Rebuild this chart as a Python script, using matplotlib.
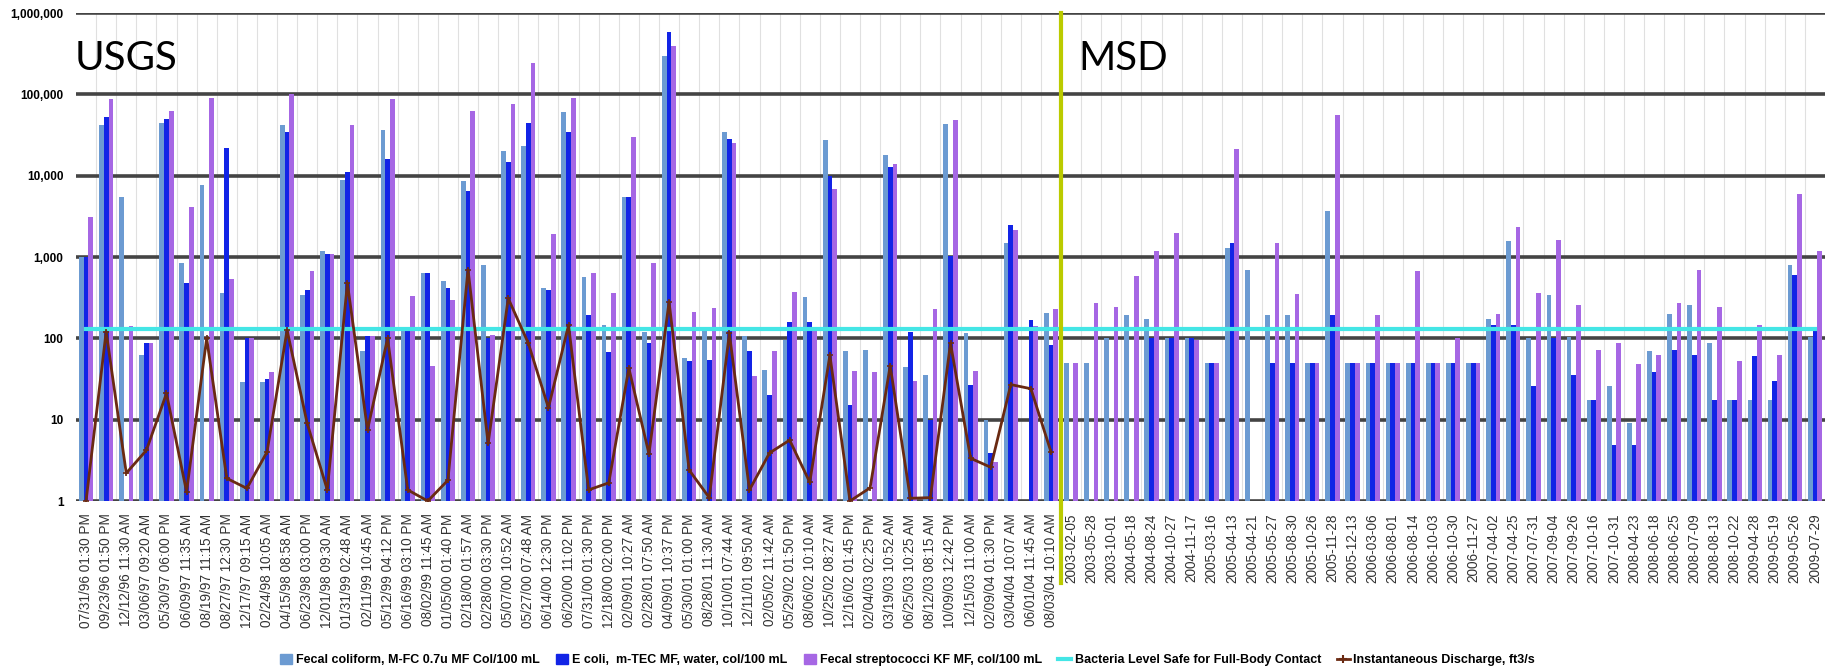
import numpy as np
import matplotlib
matplotlib.use('Agg')
import matplotlib.pyplot as plt
from matplotlib.patches import Patch
from matplotlib.lines import Line2D
import matplotlib.transforms as mtransforms
from matplotlib.ticker import FixedLocator, FuncFormatter

nan = np.nan

# -------------------------------------------------------
#                     USGS SAMPLES
# -------------------------------------------------------

usgs_dates = [
    '07/31/96 01:30 PM', '09/23/96 01:50 PM', '12/12/96 11:30 AM', '03/06/97 09:20 AM',
    '05/30/97 06:00 PM', '06/09/97 11:35 AM', '08/19/97 11:15 AM', '08/27/97 12:30 PM',
    '12/17/97 09:15 AM', '02/24/98 10:05 AM', '04/15/98 08:58 AM', '06/23/98 03:00 PM',
    '12/01/98 09:30 AM', '01/31/99 02:48 AM', '02/11/99 10:45 AM', '05/12/99 04:12 PM',
    '06/16/99 03:10 PM', '08/02/99 11:45 AM', '01/05/00 01:40 PM', '02/18/00 01:57 AM',
    '02/28/00 03:30 PM', '05/07/00 10:52 AM', '05/27/00 07:48 AM', '06/14/00 12:30 PM',
    '06/20/00 11:02 PM', '07/31/00 01:30 PM', '12/18/00 02:00 PM', '02/09/01 10:27 AM',
    '02/28/01 07:50 AM', '04/09/01 10:37 PM', '05/30/01 01:00 PM', '08/28/01 11:30 AM',
    '10/10/01 07:44 AM', '12/11/01 09:50 AM', '02/05/02 11:42 AM', '05/29/02 01:50 PM',
    '08/06/02 10:10 AM', '10/25/02 08:27 AM', '12/16/02 01:45 PM', '02/04/03 02:25 PM',
    '03/19/03 10:52 AM', '06/25/03 10:25 AM', '08/12/03 08:15 AM', '10/09/03 12:42 PM',
    '12/15/03 11:00 AM', '02/09/04 01:30 PM', '03/04/04 10:07 AM', '06/01/04 11:45 AM',
    '08/03/04 10:10 AM',
]

usgs_fecal_coliform = [
    1000, 42000, 5400, 62, 45000, 840, 7700, 360, 29, 29,
    42000, 340, 1200, 8900, 70, 36000, 133, 630, 510, 8500,
    800, 20000, 23000, 410, 60000, 570, 146, 5500, 120, 300000,
    58, 133, 34000, 107, 41, 95, 320, 27500, 70, 71,
    18000, 45, 35, 43000, 117, 10, 1480, nan, 207,
]

usgs_ecoli = [
    1000, 53000, nan, 87, 50000, 480, nan, 22000, 100, 32,
    34000, 390, 1080, 11000, 107, 16000, 139, 630, 410, 6500,
    100, 14700, 45000, 390, 34000, 195, 67, 5500, 87, 590000,
    52, 54, 28000, 69, 20, 160, 160, 10000, 15, nan,
    12800, 121, 10, 1030, 27, 3.9, 2500, 168, 83,
]

usgs_fecal_strep = [
    3100, 87000, 140, 87, 62000, 4100, 91000, 530, 100, 39,
    100000, 680, 1080, 42000, 107, 87000, 330, 46, 300, 63000,
    110, 76000, 240000, 1900, 89000, 630, 360, 30000, 840, 390000,
    213, 235, 25000, 34, 69, 375, 133, 6800, 40, 39,
    14000, 30, 227, 48000, 40, 3.0, 2150, 142, 227,
]

usgs_discharge = [
    1.0, 121, 2.2, 4.2, 21, 1.3, 100, 1.9, 1.43, 4.0,
    126, 9, 1.37, 475, 7.5, 100, 1.37, 1.0, 1.8, 700,
    5.1, 310, 87, 14, 145, 1.37, 1.67, 43, 3.8, 280,
    2.4, 1.1, 115, 1.37, 3.9, 5.6, 1.7, 62, 1.0, 1.45,
    46, 1.08, 1.1, 87, 3.35, 2.6, 27, 24, 4.0,
]

# -------------------------------------------------------
#                     MSD SAMPLES
# -------------------------------------------------------

msd_dates = [
    '2003-02-05', '2003-05-28', '2003-10-01', '2004-05-18', '2004-08-24', '2004-10-27',
    '2004-11-17', '2005-03-16', '2005-04-13', '2005-04-21', '2005-05-27', '2005-08-30',
    '2005-10-26', '2005-11-28', '2005-12-13', '2006-03-06', '2006-08-01', '2006-08-14',
    '2006-10-03', '2006-10-30', '2006-11-27', '2007-04-02', '2007-04-25', '2007-07-31',
    '2007-09-04', '2007-09-26', '2007-10-16', '2007-10-31', '2008-04-23', '2008-06-18',
    '2008-06-25', '2008-07-09', '2008-08-13', '2008-10-22', '2009-04-28', '2009-05-19',
    '2009-05-26', '2009-07-29',
]

msd_fecal_coliform = [
    50, 50, 100, 195, 175, 100, 100, 50, 1280, 700,
    195, 195, 50, 3700, 50, 50, 50, 50, 50, 50,
    50, 175, 1590, 100, 340, 105, 17.5, 26, 9, 69,
    200, 260, 88, 17.5, 17.5, 17.5, 800, 105,
]

msd_ecoli = [
    nan, nan, nan, nan, 100, 100, 100, 50, 1470, nan,
    50, 50, 50, 195, 50, 50, 50, 50, 50, 50,
    50, 146, 146, 26, 100, 35, 17.5, 4.9, 4.9, 39,
    72, 62, 17.5, 17.5, 61, 30, 600, 127,
]

msd_fecal_strep = [
    50, 270, 245, 585, 1190, 1950, 95, 50, 21000, nan,
    1470, 350, 50, 56000, 50, 195, 50, 680, 50, 100,
    50, 200, 2370, 360, 1620, 260, 72, 88, 48, 62,
    275, 690, 245, 53, 146, 62, 6000, 1200,
]

safe_level = 130

# ............................................................

labels = usgs_dates + msd_dates
fecal_coliform = np.array(usgs_fecal_coliform + msd_fecal_coliform, dtype=float)
ecoli = np.array(usgs_ecoli + msd_ecoli, dtype=float)
fecal_strep = np.array(usgs_fecal_strep + msd_fecal_strep, dtype=float)

x = np.arange(len(labels))
x_usgs = np.arange(len(usgs_dates))
split = len(usgs_dates) - 0.5

c_fc = '#6C9BD2'
c_ec = '#1224E6'
c_fs = '#A667E4'
c_safe = '#44E6E6'
c_q = '#6A2A12'
c_split = '#BBCB00'

plt.rcParams['font.family'] = ['Liberation Sans', 'DejaVu Sans']

fig = plt.figure(figsize=(18.37, 6.71), dpi=100)
ax = fig.add_axes([76 / 1837, 1 - 501 / 671, (1825 - 76) / 1837, (501 - 13) / 671])

w = 0.235
ax.bar(x - w, fecal_coliform, width=w, color=c_fc, zorder=3)
ax.bar(x, ecoli, width=w, color=c_ec, zorder=3)
ax.bar(x + w, fecal_strep, width=w, color=c_fs, zorder=3)

ax.plot(x, [safe_level] * len(x), color=c_safe, lw=3, zorder=4)
ax.plot(x_usgs, usgs_discharge, color=c_q, lw=2, marker='+', markersize=4,
        markeredgewidth=1.2, zorder=5)

# split line between the two data sources, runs down into the labels
trans = mtransforms.blended_transform_factory(ax.transData, ax.transAxes)
ax.plot([split, split], [-0.168, 1.0], transform=trans, color=c_split, lw=3,
        clip_on=False, zorder=6)

ax.set_yscale('log')
ax.set_ylim(1, 1e6)
ax.set_xlim(-0.5, len(x) - 0.5)

# grid
for v in [1, 10, 100, 1000, 1e4, 1e5, 1e6]:
    ax.axhline(v, color='#444444', lw=2.6, zorder=1)
for b in np.arange(len(x) - 1) + 0.5:
    ax.axvline(b, color='#E0E0E0', lw=0.8, zorder=0)

ax.yaxis.set_major_locator(FixedLocator([1, 10, 100, 1000, 1e4, 1e5, 1e6]))
ax.yaxis.set_minor_locator(FixedLocator([]))
ax.yaxis.set_major_formatter(FuncFormatter(lambda v, p: f'{int(v):,}'))
ax.tick_params(axis='y', length=0, pad=9, labelsize=8.5)
for t in ax.get_yticklabels():
    t.set_fontweight('bold')

ax.set_xticks(x)
ax.set_xticklabels(labels, rotation=90, fontsize=9.8, color='#333333')
ax.tick_params(axis='x', length=0, pad=9)

for s in ax.spines.values():
    s.set_visible(False)

# section titles, placed in figure pixels (y measured from the top)
fig.text(75 / 1837, 1 - 70 / 671, 'USGS', fontsize=29, family='Lato', va='baseline')
fig.text(1078 / 1837, 1 - 70 / 671, 'MSD', fontsize=29, family='Lato', va='baseline')

handles = [
    Patch(color=c_fc), Patch(color=c_ec), Patch(color=c_fs),
    Line2D([], [], color=c_safe, lw=3),
    Line2D([], [], color=c_q, lw=2, marker='+', markersize=6, markeredgewidth=1.5),
]
names = [
    'Fecal coliform, M-FC 0.7u MF Col/100 mL',
    'E coli,  m-TEC MF, water, col/100 mL',
    'Fecal streptococci KF MF, col/100 mL',
    'Bacteria Level Safe for Full-Body Contact',
    'Instantaneous Discharge, ft3/s',
]
fig.legend(handles, names, loc='lower center', bbox_to_anchor=(0.494, -0.01), ncol=5,
           frameon=False, prop={'weight': 'bold', 'size': 9}, handlelength=1.0,
           handleheight=0.8, handletextpad=0.3, columnspacing=1.3)

fig.savefig('out.png', dpi=100)
